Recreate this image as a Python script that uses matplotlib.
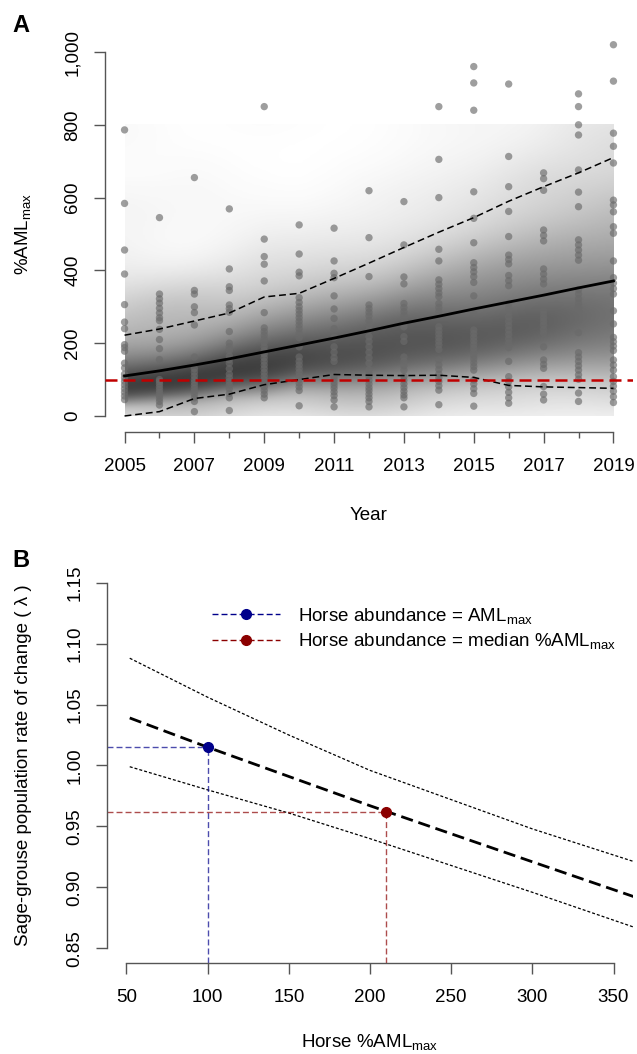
import numpy as np
import matplotlib
matplotlib.use("Agg")
import matplotlib.pyplot as plt
from matplotlib.colors import LinearSegmentedColormap
from matplotlib.lines import Line2D
from matplotlib.ticker import FuncFormatter

plt.rcParams["font.family"] = ["Liberation Sans", "DejaVu Sans"]
plt.rcParams["mathtext.fontset"] = "custom"
plt.rcParams["mathtext.rm"] = "Liberation Sans"
plt.rcParams["mathtext.it"] = "Liberation Sans:italic"
FS = 13.5
AXIS_COL = "#555555"

# ---- panel A data: %AMLmax per herd management area, by year
years = list(range(2005, 2020))
obs = [
    [786, 584, 456, 390, 306, 258, 240, 196, 188, 178, 145, 132, 115, 105, 95, 85, 75, 65, 55, 45],
    [545, 335, 322, 310, 296, 283, 270, 262, 238, 210, 185, 155, 100, 95, 88, 80, 72, 64, 56, 48, 40, 30],
    [655, 345, 335, 300, 284, 250, 162, 130, 120, 110, 100, 92, 84, 76, 68, 60, 50, 40, 12],
    [569, 404, 355, 345, 305, 295, 285, 232, 200, 190, 180, 165, 155, 145, 130, 115, 105, 95, 85, 75, 62, 50, 15],
    [850, 486, 438, 417, 371, 284, 242, 232, 222, 212, 202, 190, 180, 170, 160, 150, 140, 130, 120, 110,
     100, 90, 80, 70, 60, 50],
    [525, 445, 395, 385, 325, 312, 300, 290, 280, 270, 260, 250, 240, 228, 215, 190, 162, 150, 140, 130,
     120, 110, 100, 90, 80, 70, 28],
    [516, 426, 392, 380, 330, 294, 268, 240, 216, 190, 175, 160, 150, 108, 100, 92, 84, 76, 66, 56, 44, 25],
    [619, 490, 383, 305, 295, 285, 275, 262, 247, 236, 218, 205, 190, 175, 160, 145, 127, 118, 108, 98,
     88, 78, 70, 60, 50, 40, 25],
    [589, 470, 382, 363, 309, 298, 287, 276, 265, 255, 245, 218, 205, 162, 150, 138, 126, 108, 98, 88,
     78, 68, 58, 50, 25],
    [850, 705, 600, 458, 426, 374, 362, 350, 338, 328, 309, 298, 287, 275, 245, 235, 225, 215, 205, 195,
     183, 154, 140, 128, 115, 105, 95, 83, 71, 31],
    [960, 915, 840, 616, 543, 476, 421, 408, 396, 383, 367, 330, 282, 236, 226, 216, 206, 196, 186, 176,
     166, 156, 146, 136, 126, 99, 88, 75, 62, 27],
    [912, 713, 630, 562, 493, 442, 430, 418, 386, 372, 358, 309, 297, 285, 273, 260, 248, 236, 224, 212,
     200, 188, 150, 108, 95, 80, 65, 50, 35],
    [668, 652, 620, 511, 496, 481, 404, 390, 376, 363, 290, 280, 270, 260, 250, 238, 227, 190, 154, 142,
     131, 81, 60, 44],
    [885, 850, 800, 772, 676, 615, 575, 484, 470, 456, 442, 428, 347, 335, 322, 310, 298, 286, 275, 265,
     229, 174, 162, 150, 138, 126, 113, 101, 63, 40],
    [1020, 920, 777, 741, 695, 593, 580, 561, 520, 502, 426, 380, 365, 350, 335, 289, 253, 216, 204, 192,
     180, 154, 140, 126, 108, 95, 82, 68, 53, 37],
]
trend_mean = [110, 124, 140, 157, 176, 195, 214, 234, 255, 274, 294, 313, 332, 352, 371]
trend_upper = [222, 239, 261, 283, 327, 337, 378, 420, 463, 505, 545, 590, 630, 668, 710]
trend_lower = [0, 12, 48, 60, 86, 100, 114, 112, 111, 112, 106, 84, 80, 78, 76]
aml_line = 100

# ---- panel B data: predicted lambda vs horse %AMLmax
pct_aml = [52, 100, 150, 200, 250, 300, 370]
lam_mean = [1.039, 1.015, 0.991, 0.967, 0.944, 0.921, 0.889]
lam_upper = [1.088, 1.056, 1.025, 0.996, 0.972, 0.948, 0.918]
lam_lower = [0.999, 0.980, 0.961, 0.940, 0.918, 0.896, 0.864]
ref_x = [100, 210]
ref_y = [1.015, 0.962]
ref_labels = [r"Horse abundance = AML$_{\mathrm{max}}$",
              r"Horse abundance = median %AML$_{\mathrm{max}}$"]
ref_colors = ["#00008b", "#8b0000"]


def r_style(ax, xb, yb):
    for s in ["top", "right"]:
        ax.spines[s].set_visible(False)
    for s in ["left", "bottom"]:
        ax.spines[s].set_color(AXIS_COL)
        ax.spines[s].set_linewidth(1.0)
    ax.spines["bottom"].set_bounds(*xb)
    ax.spines["left"].set_bounds(*yb)
    ax.tick_params(which="major", direction="out", length=8, width=1.0, color=AXIS_COL,
                   labelsize=FS, labelcolor="black")
    ax.tick_params(axis="x", pad=11)
    ax.tick_params(axis="y", pad=9, labelrotation=90)
    for lab in ax.get_yticklabels():
        lab.set_va("center")


fig = plt.figure(figsize=(6.37, 10.54), dpi=100)

# ================= panel A
ax1 = fig.add_axes([105 / 637, 1 - 432 / 1054, 528 / 637, 396 / 1054])
ax1.set_xlim(2004.44, 2019.56)
ax1.set_ylim(-44, 1044)

# background shading: lognormal density around the trend (upper dashed line as
# 90th percentile, each year scaled to its own peak) blended with a kernel density of the data
gx = np.linspace(2005, 2019, 281)
gy = np.linspace(1, 800, 321)
med = np.interp(gx, years, trend_mean)
sig = np.log(np.interp(gx, years, trend_upper) / med) / 1.28
model = np.exp(-0.5 * ((np.log(gy)[:, None] - np.log(med)) / sig) ** 2) / gy[:, None]
model = model / model.max(axis=0)

kde = np.zeros((len(gy), len(gx)))
norm = np.zeros(len(gx))
for yr, vals in zip(years, obs):
    wx = np.exp(-0.5 * ((gx - yr) / 1.0) ** 2)
    norm += len(vals) * wx
    for v in vals:
        kde += np.outer(np.exp(-0.5 * ((gy - v) / 60.0) ** 2), wx)
kde = kde / norm
kde = kde / kde.max()

shade = 0.5 * model + 0.5 * kde
shade = shade / shade.max()
cmap = LinearSegmentedColormap.from_list("shade", ["#ffffff", "#3e3e3e"])
ax1.imshow(shade, extent=[2005, 2019, 0, 800], origin="lower", aspect="auto",
           cmap=cmap, vmin=0, vmax=1, interpolation="bilinear", zorder=1)

for yr, vals in zip(years, obs):
    ax1.scatter([yr] * len(vals), vals, s=28, color="#6a6a6a", alpha=0.65,
                edgecolors="none", zorder=2)

ax1.plot(years, trend_upper, color="black", lw=1.1, dashes=(4.5, 2.5), zorder=3)
ax1.plot(years, trend_lower, color="black", lw=1.1, dashes=(4.5, 2.5), zorder=3)
ax1.plot(years, trend_mean, color="black", lw=2.0, zorder=3)
ax1.axhline(aml_line, color="#c00000", lw=1.8, dashes=(4.8, 2.4), zorder=4)

ax1.set_xticks(years[::2])
ax1.set_xticks(years[1::2], minor=True)
ax1.set_yticks([0, 200, 400, 600, 800, 1000])
ax1.yaxis.set_major_formatter(FuncFormatter(lambda v, p: f"{v:,.0f}"))
r_style(ax1, (2005, 2019), (0, 1000))
ax1.tick_params(axis="x", which="minor", direction="out", length=4, width=1.0, color=AXIS_COL)
ax1.set_xlabel("Year", fontsize=FS)
ax1.set_ylabel(r"%AML$_{\mathrm{max}}$", fontsize=FS)
ax1.xaxis.set_label_coords(0.5, -0.19)
ax1.yaxis.set_label_coords(-0.136, 0.5)
fig.text(12 / 637, 1 - 32 / 1054, "A", fontsize=17, fontweight="bold")

# ================= panel B
ax2 = fig.add_axes([107 / 637, 1 - 963 / 1054, 526 / 637, 395 / 1054])
ax2.set_xlim(38, 362)
ax2.set_ylim(0.838, 1.162)

ax2.plot(pct_aml, lam_upper, color="black", lw=0.9, dashes=(2.4, 1.6))
ax2.plot(pct_aml, lam_lower, color="black", lw=0.9, dashes=(2.4, 1.6))
ax2.plot(pct_aml, lam_mean, color="black", lw=2.0, dashes=(4.4, 2.1))

x0, y0 = ax2.get_xlim()[0], ax2.get_ylim()[0]
handles = []
for xr, yr_, col in zip(ref_x, ref_y, ref_colors):
    ax2.plot([x0, xr], [yr_, yr_], color=col, alpha=0.7, lw=1.0, dashes=(4.3, 2.2))
    ax2.plot([xr, xr], [y0, yr_], color=col, alpha=0.7, lw=1.0, dashes=(4.3, 2.2))
    ax2.plot(xr, yr_, "o", color=col, ms=7, zorder=5)
    handles.append(Line2D([], [], color=col, lw=1.0, dashes=(4.3, 2.2), marker="o", ms=7,
                          markerfacecolor=col, markeredgecolor=col))
leg = ax2.legend(handles, ref_labels, loc="upper left", bbox_to_anchor=(0.20, 0.905),
                 frameon=False, fontsize=FS, handlelength=3.6, handletextpad=1.0,
                 labelspacing=0.3, borderpad=0, borderaxespad=0)

ax2.set_xticks([50, 100, 150, 200, 250, 300, 350])
ax2.set_yticks([0.85, 0.90, 0.95, 1.00, 1.05, 1.10, 1.15])
ax2.yaxis.set_major_formatter(FuncFormatter(lambda v, p: f"{v:.2f}"))
r_style(ax2, (50, 350), (0.85, 1.15))
ax2.set_xlabel(r"Horse %AML$_{\mathrm{max}}$", fontsize=FS)
ax2.set_ylabel(r"Sage-grouse population rate of change ( λ )", fontsize=FS)
ax2.xaxis.set_label_coords(0.5, -0.175)
ax2.yaxis.set_label_coords(-0.143, 0.5)
fig.text(12 / 637, 1 - 567 / 1054, "B", fontsize=17, fontweight="bold")

fig.savefig("out.png", dpi=100)
